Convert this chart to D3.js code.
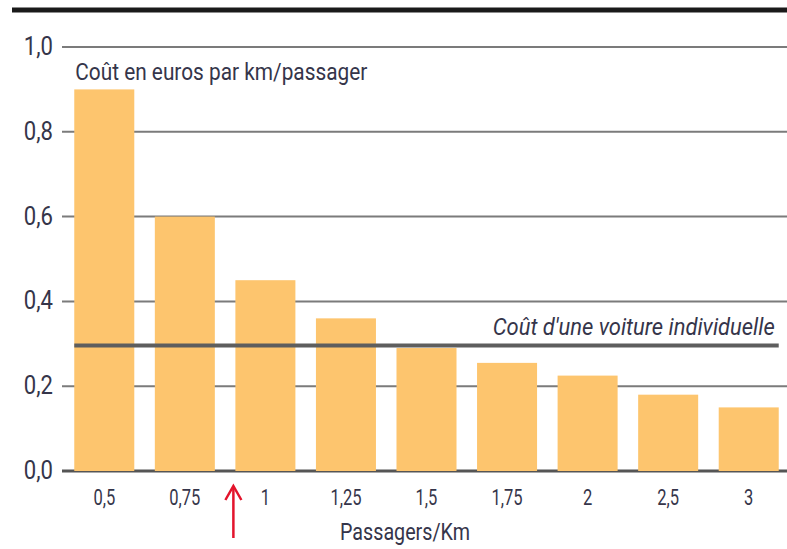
<!DOCTYPE html>
<html lang="fr">
<head>
<meta charset="utf-8">
<title>Coût en euros par km/passager</title>
<script src="https://cdn.jsdelivr.net/npm/d3@7"></script>
<style>
  body { margin: 0; background: #fff; }
  svg text { font-family: "Liberation Sans Narrow", "Roboto", sans-serif; fill: #35354a; }
</style>
</head>
<body>
<script>
// data
var categories = ["0,5", "0,75", "1", "1,25", "1,5", "1,75", "2", "2,5", "3"];
var costs = [0.9, 0.6, 0.45, 0.36, 0.29, 0.255, 0.225, 0.18, 0.15];
var carCost = 0.296;
var yTicks = [0, 0.2, 0.4, 0.6, 0.8, 1.0];

var width = 787, height = 549;

var svg = d3.select("body").append("svg")
    .attr("width", width)
    .attr("height", height);

var x = d3.scaleBand()
    .domain(categories)
    .range([64, 789])
    .paddingInner(0.255)
    .paddingOuter(0.1275);

var y = d3.scaleLinear()
    .domain([0, 1])
    .range([471, 47]);

var fmt = function(d) { return d3.format(".1f")(d).replace(".", ","); };

// top rule
svg.append("line")
    .attr("x1", 12).attr("x2", width)
    .attr("y1", 10).attr("y2", 10)
    .attr("stroke", "#1a1a1a")
    .attr("stroke-width", 5);

// grid
svg.selectAll(".grid")
    .data(yTicks.filter(function(d) { return d > 0; }))
  .enter().append("line")
    .attr("class", "grid")
    .attr("x1", 62).attr("x2", width)
    .attr("y1", function(d) { return y(d); })
    .attr("y2", function(d) { return y(d); })
    .attr("stroke", "#7b7b7b")
    .attr("stroke-width", 2);

svg.append("line")
    .attr("x1", 62).attr("x2", width)
    .attr("y1", y(0)).attr("y2", y(0))
    .attr("stroke", "#555")
    .attr("stroke-width", 3);

// y labels (condensed look)
svg.selectAll(".ylab")
    .data(yTicks)
  .enter().append("text")
    .attr("class", "ylab")
    .attr("transform", function(d) { return "translate(53," + (y(d) + 8) + ") scale(0.85,1)"; })
    .attr("text-anchor", "end")
    .style("font-size", "26px")
    .text(fmt);

// bars
svg.selectAll(".bar")
    .data(costs)
  .enter().append("rect")
    .attr("class", "bar")
    .attr("x", function(d, i) { return x(categories[i]); })
    .attr("width", x.bandwidth())
    .attr("y", function(d) { return y(d); })
    .attr("height", function(d) { return y(0) - y(d); })
    .attr("fill", "#fdc56e");

// x labels
svg.selectAll(".xlab")
    .data(categories)
  .enter().append("text")
    .attr("class", "xlab")
    .attr("transform", function(d) { return "translate(" + (x(d) + x.bandwidth() / 2) + ",505) scale(0.75,1)"; })
    .attr("text-anchor", "middle")
    .style("font-size", "22px")
    .text(function(d) { return d; });

svg.append("text")
    .attr("x", 340)
    .attr("y", 540)
    .attr("textLength", 130)
    .attr("lengthAdjust", "spacingAndGlyphs")
    .style("font-size", "24px")
    .text("Passagers/Km");

// title inside plot
svg.append("text")
    .attr("x", x(categories[0]) + 1)
    .attr("y", 80)
    .attr("textLength", 292)
    .attr("lengthAdjust", "spacingAndGlyphs")
    .style("font-size", "23px")
    .text("Coût en euros par km/passager");

// car cost line
var lineEnd = x(categories[categories.length - 1]) + x.bandwidth();
svg.append("line")
    .attr("x1", x(categories[0]))
    .attr("x2", lineEnd)
    .attr("y1", y(carCost)).attr("y2", y(carCost))
    .attr("stroke", "#5e5e5e")
    .attr("stroke-width", 4);

svg.append("text")
    .attr("x", lineEnd - 286)
    .attr("y", y(carCost) - 10)
    .attr("textLength", 282)
    .attr("lengthAdjust", "spacingAndGlyphs")
    .style("font-size", "23px")
    .style("font-style", "italic")
    .text("Coût d'une voiture individuelle");

// red arrow annotation
var ax = x("1") - 2;
svg.append("line")
    .attr("x1", ax).attr("x2", ax)
    .attr("y1", 538).attr("y2", 486)
    .attr("stroke", "#e3142c")
    .attr("stroke-width", 2.5);
svg.append("path")
    .attr("d", "M" + (ax - 8) + ",500L" + ax + ",486L" + (ax + 8) + ",500")
    .attr("fill", "none")
    .attr("stroke", "#e3142c")
    .attr("stroke-width", 2.5);
</script>
</body>
</html>
